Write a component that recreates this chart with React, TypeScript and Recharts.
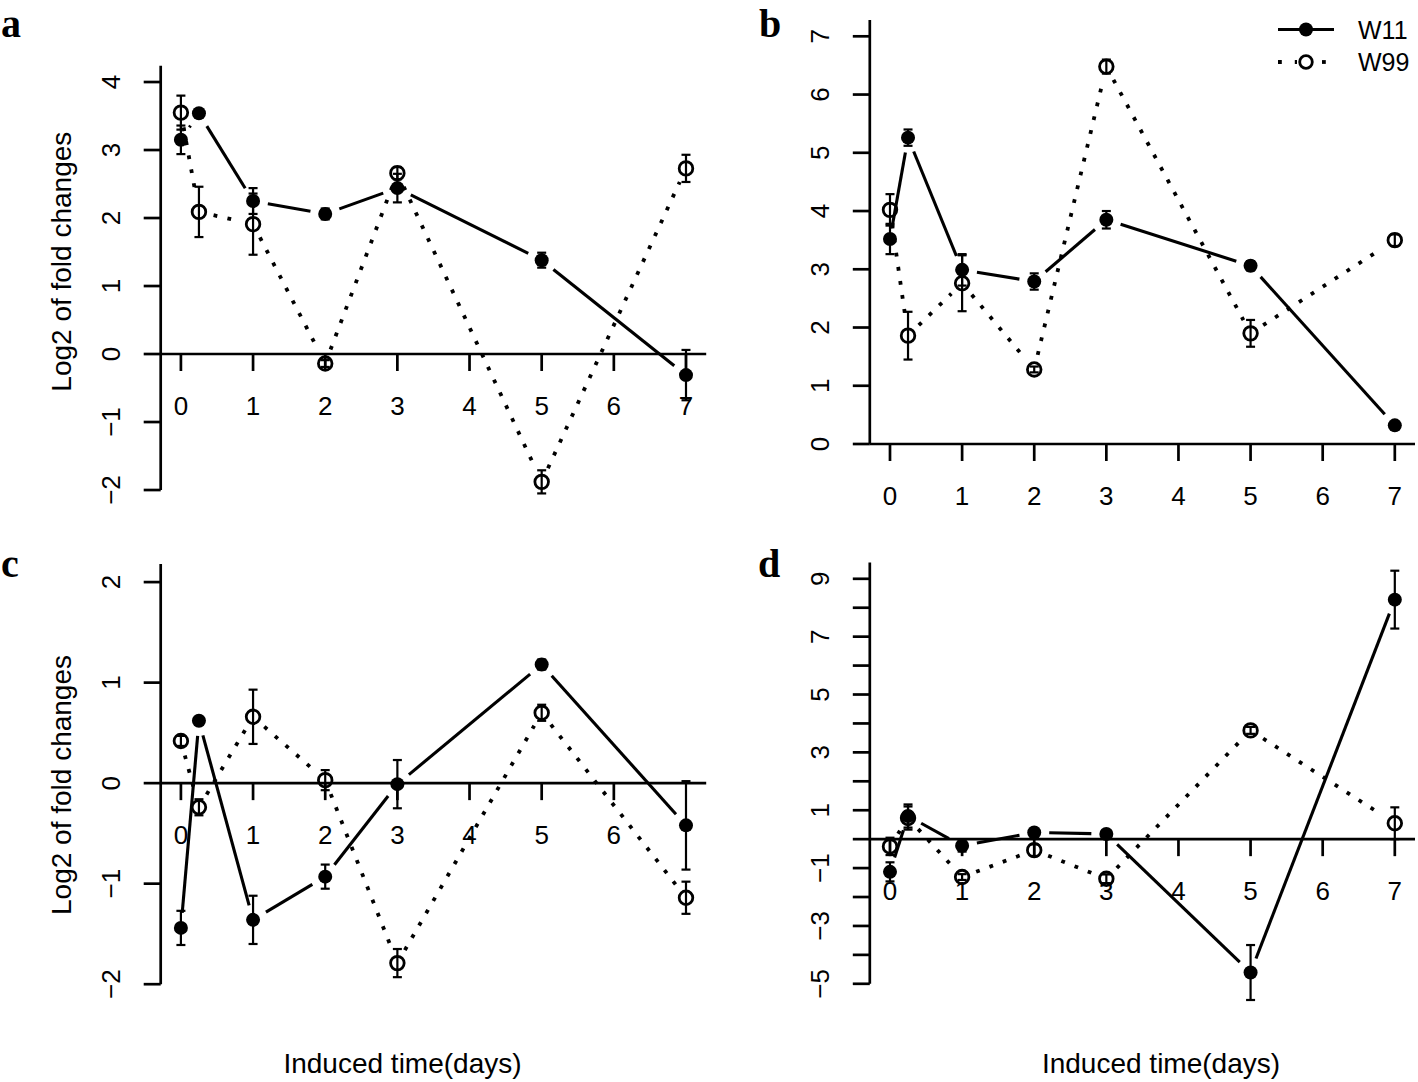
import React from 'react';
import { ComposedChart, Line, XAxis, YAxis, ErrorBar, ReferenceLine, Legend } from 'recharts';

// ---------- data ----------
const days = [0, 0.25, 1, 2, 3, 5, 7];
const seriesNames = ['W11', 'W99'];

const aW11 = [3.15, 3.54, 2.25, 2.06, 2.44, 1.38, -0.31];
const aW11Err = [0.21, 0.03, 0.19, 0.08, 0.21, 0.11, 0.37];
const aW99 = [3.55, 2.09, 1.91, -0.14, 2.66, -1.88, 2.73];
const aW99Err = [0.25, 0.37, 0.45, 0.05, 0.09, 0.17, 0.2];

const bW11 = [3.52, 5.26, 2.99, 2.79, 3.85, 3.06, 0.32];
const bW11Err = [0.26, 0.14, 0.27, 0.14, 0.15, 0.08, 0.04];
const bW99 = [4.02, 1.86, 2.76, 1.28, 6.48, 1.9, 3.5];
const bW99Err = [0.27, 0.41, 0.48, 0.05, 0.12, 0.23, 0.1];

const cW11 = [-1.44, 0.62, -1.36, -0.93, -0.01, 1.18, -0.42];
const cW11Err = [0.17, 0.02, 0.24, 0.12, 0.24, 0.05, 0.44];
const cW99 = [0.42, -0.24, 0.66, 0.03, -1.79, 0.7, -1.14];
const cW99Err = [0.05, 0.08, 0.27, 0.1, 0.14, 0.08, 0.16];

const dW11 = [-1.13, 0.8, -0.23, 0.23, 0.18, -4.61, 8.28];
const dW11Err = [0.33, 0.4, 0.2, 0.08, 0.08, 0.95, 1.0];
const dW99 = [-0.25, 0.73, -1.31, -0.38, -1.37, 3.76, 0.55];
const dW99Err = [0.3, 0.4, 0.1, 0.2, 0.15, 0.12, 0.55];

const xTicksFull = [0, 1, 2, 3, 4, 5, 6, 7];
const xTicksC = [0, 1, 2, 3, 4, 5, 6];
const yTicksA = [-2, -1, 0, 1, 2, 3, 4];
const yTicksB = [0, 1, 2, 3, 4, 5, 6, 7];
const yTicksC = [-2, -1, 0, 1, 2];
const yTicksD = [-5, -4, -3, -2, -1, 0, 1, 2, 3, 4, 5, 6, 7, 8, 9];
const yLabelsD = [-5, -3, -1, 1, 3, 5, 7, 9];

const panelLetters = ['a', 'b', 'c', 'd'];
const yTitle = 'Log2 of fold changes';
const xTitle = 'Induced time(days)';

// ---------- layout ----------
const W = 1418;
const H = 1082;
const YW = 60;
const XH = 30;
const FONT = "'Liberation Sans', Arial, Helvetica, sans-serif";
const SERIF = "'Liberation Serif', 'Times New Roman', serif";
const GAP = 15;
const LW = 3.1;
const AW = 2.7;

const buildRows = (w11: number[], w11e: number[], w99: number[], w99e: number[]) =>
  days.map((d, i) => ({ day: d, w11: w11[i], w11e: w11e[i], w99: w99[i], w99e: w99e[i] }));

const fmt = (v: number) => (v < 0 ? '\u2212' + Math.abs(v) : String(v));

const panels = [
  {
    rows: buildRows(aW11, aW11Err, aW99, aW99Err),
    box: { left: 160.7, top: 65.7, right: 706.2, bottom: 494.1 },
    yDomain: [-2.06, 4.24], yTicks: yTicksA, yLabels: yTicksA, xTicks: xTicksFull, axisBottom: -2, legend: false,
  },
  {
    rows: buildRows(bW11, bW11Err, bW99, bW99Err),
    box: { left: 869.8, top: 20, right: 1415, bottom: 444 },
    yDomain: [0, 7.28], yTicks: yTicksB, yLabels: yTicksB, xTicks: xTicksFull, axisBottom: 0, legend: true,
  },
  {
    rows: buildRows(cW11, cW11Err, cW99, cW99Err),
    box: { left: 160.7, top: 564, right: 706.2, bottom: 984.2 },
    yDomain: [-2, 2.18], yTicks: yTicksC, yLabels: yTicksC, xTicks: xTicksC, axisBottom: -2, legend: false,
  },
  {
    rows: buildRows(dW11, dW11Err, dW99, dW99Err),
    box: { left: 869.8, top: 562.6, right: 1415, bottom: 1000 },
    yDomain: [-5.56, 9.56], yTicks: yTicksD, yLabels: yLabelsD, xTicks: xTicksFull, axisBottom: -5, legend: false,
  },
];

const X_DOMAIN = [-0.28, 7.28];

const makeDot = (filled: boolean, dotted: boolean) => (props: any) => {
  const { cx, cy, index, points } = props;
  if (cx == null || cy == null || isNaN(cx) || isNaN(cy)) return <g key={`e-${index}`} />;
  let seg = null;
  if (points && index < points.length - 1) {
    const nx = points[index + 1].x;
    const ny = points[index + 1].y;
    const dx = nx - cx;
    const dy = ny - cy;
    const L = Math.hypot(dx, dy);
    if (L > 2 * GAP) {
      const f = GAP / L;
      seg = (
        <line
          x1={cx + f * dx}
          y1={cy + f * dy}
          x2={nx - f * dx}
          y2={ny - f * dy}
          stroke="#000"
          strokeWidth={dotted ? 3.8 : LW}
          strokeDasharray={dotted ? '3.8 10.4' : undefined}
        />
      );
    }
  }
  return (
    <g key={`d-${index}`}>
      {seg}
      {filled ? (
        <circle cx={cx} cy={cy} r={7} fill="#000" />
      ) : (
        <circle cx={cx} cy={cy} r={6.8} fill="none" stroke="#000" strokeWidth={2.8} />
      )}
    </g>
  );
};

const LegendContent = () => (
  <svg width={150} height={80} style={{ overflow: 'visible' }}>
    <line x1={8} y1={29.5} x2={64} y2={29.5} stroke="#000" strokeWidth={LW} />
    <circle cx={36} cy={29.5} r={7} fill="#000" />
    <text x={88} y={30} fontFamily={FONT} fontSize={25} dominantBaseline="central">{seriesNames[0]}</text>
    <line x1={8} y1={62} x2={27} y2={62} stroke="#000" strokeWidth={3.8} strokeDasharray="3.8 13" />
    <line x1={52} y1={62} x2={64} y2={62} stroke="#000" strokeWidth={3.8} strokeDasharray="3.8 13" />
    <circle cx={36} cy={62} r={6.3} fill="none" stroke="#000" strokeWidth={2.8} />
    <text x={88} y={62} fontFamily={FONT} fontSize={25} dominantBaseline="central">{seriesNames[1]}</text>
  </svg>
);

function Panel({ cfg }: { cfg: any }) {
  const { box, yDomain, yTicks, yLabels, xTicks, axisBottom, rows, legend } = cfg;
  const [ymin, ymax] = yDomain;
  const y0 = box.top + (ymax / (ymax - ymin)) * (box.bottom - box.top);
  const margin = { top: box.top, left: box.left - YW, right: W - box.right, bottom: H - box.bottom - XH };

  const xTick = (p: any) => (
    <g>
      <line x1={p.x} x2={p.x} y1={y0} y2={y0 + 17} stroke="#000" strokeWidth={AW} />
      <text x={p.x} y={y0 + 52} textAnchor="middle" dominantBaseline="central" fontFamily={FONT} fontSize={26} fill="#000">
        {fmt(p.payload.value)}
      </text>
    </g>
  );
  const yTick = (p: any) => {
    const v = p.payload.value;
    const tx = box.left - 50;
    return (
      <g>
        <line x1={box.left - 17} x2={box.left} y1={p.y} y2={p.y} stroke="#000" strokeWidth={AW} />
        {yLabels.includes(v) ? (
          <text
            x={tx}
            y={p.y}
            textAnchor="middle"
            dominantBaseline="central"
            fontFamily={FONT}
            fontSize={26}
            fill="#000"
            transform={`rotate(-90 ${tx} ${p.y})`}
          >
            {fmt(v)}
          </text>
        ) : null}
      </g>
    );
  };

  return (
    <div style={{ position: 'absolute', left: 0, top: 0 }}>
      <ComposedChart width={W} height={H} data={rows} margin={margin}>
        <XAxis
          type="number"
          dataKey="day"
          domain={X_DOMAIN}
          ticks={xTicks}
          interval={0}
          axisLine={false}
          tickLine={false}
          height={XH}
          tick={xTick}
        />
        <YAxis
          type="number"
          domain={yDomain}
          ticks={yTicks}
          interval={0}
          width={YW}
          axisLine={false}
          tickLine={false}
          tick={yTick}
        />
        <ReferenceLine y={0} stroke="#000" strokeWidth={AW} ifOverflow="visible" />
        <ReferenceLine
          segment={[{ x: X_DOMAIN[0], y: axisBottom }, { x: X_DOMAIN[0], y: ymax }]}
          stroke="#000"
          strokeWidth={AW}
          ifOverflow="visible"
        />
        <Line
          dataKey="w11"
          name={seriesNames[0]}
          stroke="none"
          dot={makeDot(true, false)}
          activeDot={false}
          isAnimationActive={false}
        >
          <ErrorBar dataKey="w11e" width={4.5} stroke="#000" strokeWidth={2.2} isAnimationActive={false} />
        </Line>
        <Line
          dataKey="w99"
          name={seriesNames[1]}
          stroke="none"
          dot={makeDot(false, true)}
          activeDot={false}
          isAnimationActive={false}
        >
          <ErrorBar dataKey="w99e" width={4.5} stroke="#000" strokeWidth={2.2} isAnimationActive={false} />
        </Line>
        {legend ? (
          <Legend
            layout="horizontal"
            verticalAlign="middle"
            align="center"
            content={<LegendContent />}
            wrapperStyle={{ position: 'absolute', left: 1270, top: 0, width: 150, height: 80 }}
          />
        ) : null}
      </ComposedChart>
    </div>
  );
}

export default function App() {
  return (
    <div style={{ position: 'absolute', left: 0, top: 0, width: W, height: H, background: '#fff', overflow: 'hidden' }}>
      <svg width={W} height={H} style={{ position: 'absolute', left: 0, top: 0 }}>
        <text x={1} y={37} fontFamily={SERIF} fontWeight="bold" fontSize={40}>{panelLetters[0]}</text>
        <text x={759} y={37} fontFamily={SERIF} fontWeight="bold" fontSize={40}>{panelLetters[1]}</text>
        <text x={1} y={577} fontFamily={SERIF} fontWeight="bold" fontSize={40}>{panelLetters[2]}</text>
        <text x={758} y={577} fontFamily={SERIF} fontWeight="bold" fontSize={40}>{panelLetters[3]}</text>
        <text x={61.4} y={261.7} transform="rotate(-90 61.4 261.7)" textAnchor="middle" dominantBaseline="central" fontFamily={FONT} fontSize={28}>{yTitle}</text>
        <text x={61.4} y={785} transform="rotate(-90 61.4 785)" textAnchor="middle" dominantBaseline="central" fontFamily={FONT} fontSize={28}>{yTitle}</text>
        <text x={402.5} y={1063} textAnchor="middle" dominantBaseline="central" fontFamily={FONT} fontSize={28}>{xTitle}</text>
        <text x={1161} y={1063} textAnchor="middle" dominantBaseline="central" fontFamily={FONT} fontSize={28}>{xTitle}</text>
      </svg>
      {panels.map((p, i) => (
        <Panel key={i} cfg={p} />
      ))}
    </div>
  );
}
